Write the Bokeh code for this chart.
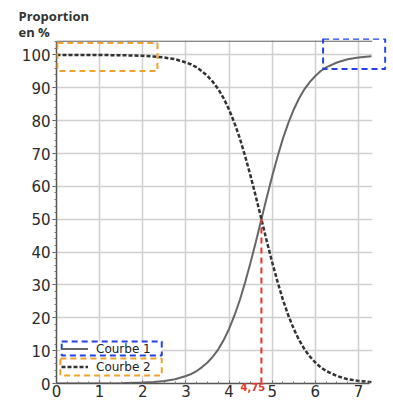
from bokeh.plotting import figure
from bokeh.models import (ColumnDataSource, Legend, LegendItem, BoxAnnotation, Span,
                          FixedTicker, Range1d, LinearAxis)
from bokeh.embed import file_html
from bokeh.resources import INLINE

# ---- data ----
x_values = [0, 0.5, 1, 1.5, 2, 2.25, 2.5, 2.75,
            3, 3.125, 3.25, 3.375, 3.5, 3.625, 3.75, 3.875, 4, 4.125, 4.25, 4.375,
            4.5, 4.625, 4.75, 4.875, 5, 5.125, 5.25, 5.375, 5.5, 5.625, 5.75, 5.875,
            6, 6.125, 6.25,
            6.5, 6.75, 7, 7.3]
courbe1 = [0, 0.01, 0.03, 0.09, 0.27, 0.46, 0.79, 1.3,
           2.3, 2.9, 3.8, 5.0, 6.4, 8.2, 10.4, 13.2, 16.6, 20.7, 25.4, 30.9,
           36.9, 43.3, 50, 56.7, 63.1, 69.1, 74.6, 79.3, 83.4, 86.8, 89.6, 91.8,
           93.6, 95.1, 96.2,
           97.7, 98.7, 99.2, 99.6]
courbe2 = [100, 99.99, 99.97, 99.91, 99.73, 99.54, 99.21, 98.7,
           97.7, 97.1, 96.2, 95.0, 93.6, 91.8, 89.6, 86.8, 83.4, 79.3, 74.6, 69.1,
           63.1, 56.7, 50, 43.3, 36.9, 30.9, 25.4, 20.7, 16.6, 13.2, 10.4, 8.2,
           6.4, 4.9, 3.8,
           2.3, 1.3, 0.8, 0.4]
series_names = ["Courbe 1", "Courbe 2"]
x_ticks = [0, 1, 2, 3, 4, 5, 6, 7]
y_ticks = [0, 10, 20, 30, 40, 50, 60, 70, 80, 90, 100]
x_max = 7.32          # right end of the drawn chart area
y_max = 104.2         # top border of the chart area
threshold_x = 4.75
threshold_y = 50
threshold_label = "4,75"
y_title = "Proportion\nen %"

src = ColumnDataSource(dict(x=x_values, c1=courbe1, c2=courbe2))

# the frame is a bit larger than the chart so the highlight box can overhang
p = figure(width=393, height=401, output_backend="svg", toolbar_location=None,
           x_range=Range1d(0, 7.65), y_range=Range1d(0, 105.0),
           min_border_left=56, min_border_right=7, min_border_top=38,
           min_border_bottom=18, title=y_title)
p.outline_line_color = None
p.background_fill_color = "white"

# title used as the y-axis caption
p.title.align = "left"
p.title.offset = -38
p.title.standoff = -5
p.title.text_font = "Open Sans"
p.title.text_font_style = "bold"
p.title.text_font_size = "13px"
p.title.text_color = "#333333"
p.title.text_line_height = 0.9

# grid
p.xgrid.ticker = FixedTicker(ticks=x_ticks[1:])
p.ygrid.ticker = FixedTicker(ticks=y_ticks[1:])
for g in (p.xgrid, p.ygrid):
    g.grid_line_color = "#cfcfcf"
    g.grid_line_width = 1.5

# axes
p.xaxis.ticker = FixedTicker(ticks=x_ticks,
                             minor_ticks=[i * 0.25 for i in range(0, 30)])
p.yaxis.ticker = FixedTicker(ticks=y_ticks,
                             minor_ticks=[i * 2 for i in range(0, 53)])
p.xaxis.bounds = (0, 7.25)
p.yaxis.bounds = (0, y_max)
for ax in (p.xaxis[0], p.yaxis[0]):
    ax.axis_line_color = "#555555"
    ax.axis_line_width = 1.5
    ax.major_tick_line_color = "#555555"
    ax.minor_tick_line_color = "#777777"
    ax.major_label_text_font = "DejaVu Sans"
    ax.major_label_text_font_size = "15px"
    ax.major_label_text_color = "#2b2b2b"
p.xaxis.major_tick_in = 3
p.xaxis.major_tick_out = 0
p.xaxis.minor_tick_in = 2
p.xaxis.minor_tick_out = 0
p.xaxis.major_label_standoff = 1
p.yaxis.major_tick_in = 0
p.yaxis.major_tick_out = 4
p.yaxis.minor_tick_in = 0
p.yaxis.minor_tick_out = 2
p.yaxis.major_label_standoff = 2

# red threshold tick label on its own axis (slightly shifted range so it clears "5")
p.extra_x_ranges = {"lab": Range1d(0.2, 7.85)}
red_axis = LinearAxis(x_range_name="lab", ticker=FixedTicker(ticks=[threshold_x]),
                      major_label_overrides={threshold_x: threshold_label},
                      axis_line_color=None, major_tick_line_color=None,
                      minor_tick_line_color=None, major_tick_in=0, major_tick_out=0,
                      major_label_standoff=-17, major_label_text_color="#e8352b",
                      major_label_text_font="DejaVu Sans",
                      major_label_text_font_style="bold",
                      major_label_text_font_size="10px")
p.add_layout(red_axis, "below")

blue = "#2342e6"
orange = "#f2a22e"
legend_boxes = [
    (0.12, 2.44, 12.77, 8.51, blue),
    (0.09, 2.44, 7.6, 2.43, orange),
]

# white backdrop for the legend, drawn over the grid but under the curves
p.add_layout(BoxAnnotation(left=0.09, right=2.44, bottom=2.43, top=12.77,
                           fill_color="white", fill_alpha=1.0, line_alpha=0,
                           level="underlay"))

# curves
r1 = p.line("x", "c1", source=src, line_color="#666666", line_width=2)
r2 = p.line("x", "c2", source=src, line_color="#333333", line_width=2.5,
            line_dash="4 2")

# threshold
p.line([threshold_x, threshold_x], [0, threshold_y], line_color="#e8352b",
       line_width=2, line_dash="6 4")

# top border line, then blank out the frame outside the chart area
p.add_layout(Span(location=y_max, dimension="width", line_color="#8a8a8a",
                  line_width=1.5))
p.add_layout(BoxAnnotation(left=x_max, right=9, bottom=-1, top=120,
                           fill_color="white", fill_alpha=1.0, line_alpha=0))
p.add_layout(BoxAnnotation(left=0.01, right=9, bottom=y_max + 0.25, top=120,
                           fill_color="white", fill_alpha=1.0, line_alpha=0))

# legend
legend = Legend(items=[LegendItem(label=series_names[0], renderers=[r1]),
                       LegendItem(label=series_names[1], renderers=[r2])],
                location=(5, 9), padding=3, spacing=3, margin=0,
                label_height=15, glyph_height=15, glyph_width=27,
                label_standoff=8, label_text_font="DejaVu Sans",
                label_text_font_size="12px", label_text_color="#222222",
                border_line_color=None, background_fill_alpha=0.0)
p.add_layout(legend, "center")

boxes = [(0.02, 2.34, 103.6, 95.1, orange),
         (6.18, 7.62, 104.9, 95.7, blue)] + legend_boxes
for l, r, t, b, c in boxes:
    p.add_layout(BoxAnnotation(left=l, right=r, top=t, bottom=b, fill_alpha=0,
                               line_alpha=1.0, line_color=c, line_width=2,
                               line_dash="6 4", level="overlay"))

open("out.html", "w").write(file_html(p, INLINE))
